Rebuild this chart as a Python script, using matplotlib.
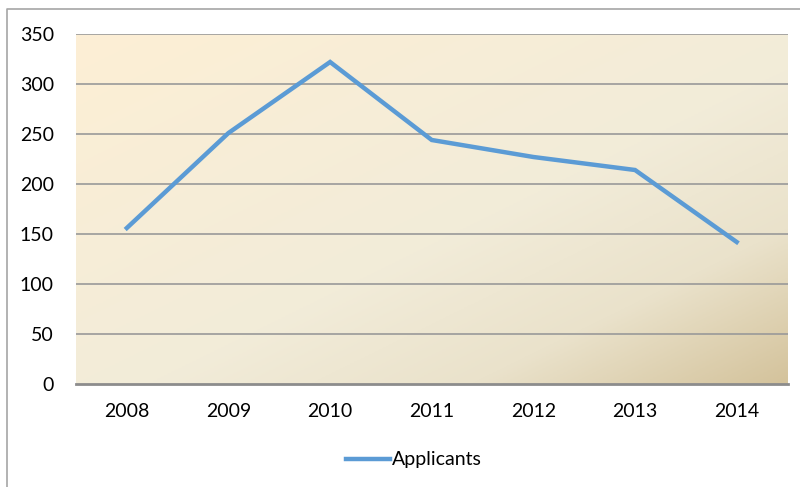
import numpy as np
import matplotlib
matplotlib.use("Agg")
from matplotlib import pyplot as plt
from matplotlib.colors import LinearSegmentedColormap
from matplotlib.lines import Line2D

# data
years = ['2008', '2009', '2010', '2011', '2012', '2013', '2014']
applicants = [156, 251, 322, 244, 227, 214, 142]
yticks = [0, 50, 100, 150, 200, 250, 300, 350]

plt.rcParams['font.family'] = ['Lato', 'DejaVu Sans']

fig = plt.figure(figsize=(8, 4.87), dpi=100)
ax = fig.add_axes([76/800, 1-384/487, (787.5-76)/800, (384-34)/487])

# outer chart border (only top and left visible in the reference)
fig.lines.append(Line2D([6.5/800, 6.5/800, 1.0], [0.0, 1-9/487, 1-9/487],
                        transform=fig.transFigure, color='#A6A6A6', linewidth=1.2))

# diagonal gradient for the plot area
gx, gy = np.meshgrid(np.linspace(0, 1, 200), np.linspace(0, 1, 200))
diag = (gx + gy) / 2
cmap = LinearSegmentedColormap.from_list('bg', [(0, '#FDEFD5'), (0.55, '#F2ECD9'),
                                                (0.78, '#EAE2CB'), (1, '#D4C39C')])
x = np.arange(len(years))
ax.imshow(diag, cmap=cmap, extent=[-0.5, len(years)-0.5, 0, 350], origin='upper',
          aspect='auto', zorder=0)

ax.set_xlim(-0.5, len(years)-0.5)
ax.set_ylim(0, 350)
for t in yticks[1:]:
    ax.axhline(t, color='#999999', linewidth=1.2, zorder=1)

ax.plot(x, applicants, color='#5B9BD5', linewidth=3.2, label='Applicants', zorder=3,
        solid_joinstyle='miter')

ax.set_xticks(x)
ax.set_xticklabels(years)
ax.set_yticks(yticks)
ax.tick_params(length=0, labelsize=14, colors='black')
ax.tick_params(axis='x', pad=14)
ax.tick_params(axis='y', pad=16)
for s in ['top', 'right', 'left']:
    ax.spines[s].set_visible(False)
ax.spines['bottom'].set_color('#8C8C8C')
ax.spines['bottom'].set_linewidth(2)
ax.spines['bottom'].set_zorder(4)

fig.legend(loc='center', bbox_to_anchor=(414/800, 1-460/487), frameon=False,
           fontsize=14, handlelength=2.3, handletextpad=0.1)

plt.savefig('out.png', dpi=100)
